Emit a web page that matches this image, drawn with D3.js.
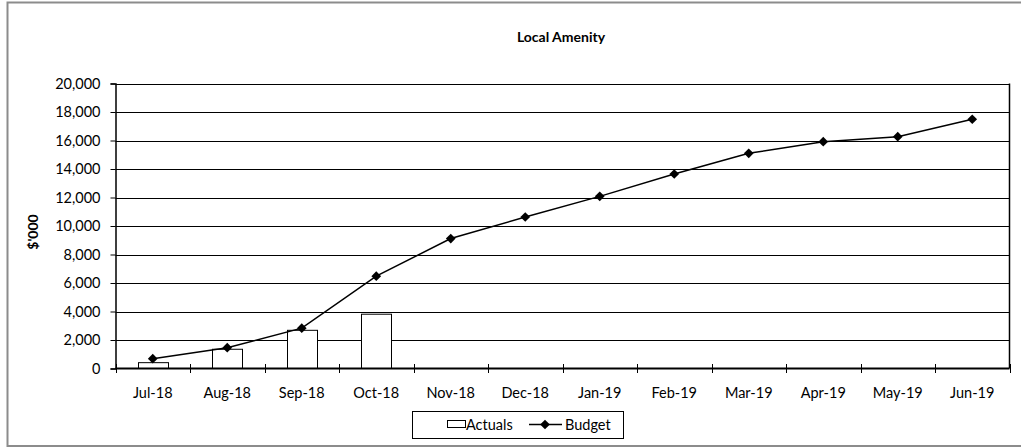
<!DOCTYPE html>
<html>
<head>
<meta charset="utf-8">
<script src="https://cdn.jsdelivr.net/npm/d3@7/dist/d3.min.js"></script>
<style>
  html, body { margin: 0; padding: 0; background: #fff; }
  svg { display: block; font-family: Lato, "Open Sans", sans-serif; }
</style>
</head>
<body>
<svg id="chart" width="1021" height="447"></svg>
<script>
// Monthly figures, $'000
const months = ["Jul-18","Aug-18","Sep-18","Oct-18","Nov-18","Dec-18","Jan-19","Feb-19","Mar-19","Apr-19","May-19","Jun-19"];
const actuals = [410, 1350, 2680, 3810];
const budget = [690, 1460, 2830, 6480, 9120, 10630, 12080, 13650, 15100, 15920, 16270, 17490];
const yTicks = [0, 2000, 4000, 6000, 8000, 10000, 12000, 14000, 16000, 18000, 20000];

const svg = d3.select("#chart");
const W = 1021, H = 447;
const plot = { left: 115.5, right: 1009.5, top: 83.5, bottom: 368.5 };
const FS = 14.5;

// outer frame
svg.append("rect")
  .attr("x", 7.5).attr("y", 2.5).attr("width", W + 10).attr("height", 443.5)
  .attr("fill", "#fff").attr("stroke", "#8c8c8c").attr("stroke-width", 2);

const xOuter = d3.scaleBand().domain(months).range([plot.left, plot.right]);
const y = d3.scaleLinear().domain([0, 20000]).range([plot.bottom, plot.top]);

// horizontal gridlines
svg.append("g").selectAll("line").data(yTicks.slice(1)).join("line")
  .attr("x1", plot.left).attr("x2", plot.right)
  .attr("y1", d => Math.round(y(d)) + 0.5).attr("y2", d => Math.round(y(d)) + 0.5)
  .attr("stroke", "#000").attr("stroke-width", 1);

// plot border (right side)
svg.append("line").attr("x1", plot.right).attr("x2", plot.right)
  .attr("y1", plot.top).attr("y2", plot.bottom).attr("stroke", "#000").attr("stroke-width", 1.5);

// actuals bars
const barW = 30;
svg.append("g").selectAll("rect").data(actuals).join("rect")
  .attr("x", (d, i) => Math.round(xOuter(months[i]) + xOuter.bandwidth() / 2 - barW / 2) + 0.5)
  .attr("y", d => y(d))
  .attr("width", barW)
  .attr("height", d => plot.bottom - y(d))
  .attr("fill", "#fff").attr("stroke", "#000").attr("stroke-width", 1);

// y axis
const yAxis = d3.axisLeft(y).tickValues(yTicks).tickSize(5).tickPadding(10)
  .tickFormat(d3.format(","));
const gy = svg.append("g").attr("transform", `translate(${plot.left},0)`).call(yAxis);
gy.select(".domain").attr("stroke", "#000").attr("stroke-width", 1.5);
gy.selectAll(".tick line").attr("stroke", "#000");
gy.selectAll(".tick text").attr("font-size", FS).attr("fill", "#000")
  .attr("font-family", "Lato, 'Open Sans', sans-serif");

// x axis with crossing tick marks at category boundaries
svg.append("line").attr("x1", plot.left).attr("x2", plot.right)
  .attr("y1", plot.bottom).attr("y2", plot.bottom).attr("stroke", "#000").attr("stroke-width", 2);
const bounds = months.map(m => xOuter(m)).concat([plot.right]);
svg.append("g").selectAll("line").data(bounds).join("line")
  .attr("x1", d => Math.round(d) + 0.5).attr("x2", d => Math.round(d) + 0.5)
  .attr("y1", plot.bottom - 4.5).attr("y2", plot.bottom + 4.5)
  .attr("stroke", "#000").attr("stroke-width", 1);
svg.append("g").selectAll("text").data(months).join("text")
  .attr("x", d => xOuter(d) + xOuter.bandwidth() / 2)
  .attr("y", 398)
  .attr("text-anchor", "middle").attr("font-size", FS).attr("fill", "#000")
  .text(d => d);

// budget line with diamond markers
const cx = m => xOuter(m) + xOuter.bandwidth() / 2;
svg.append("path")
  .datum(budget)
  .attr("d", d3.line().x((d, i) => cx(months[i])).y(d => y(d)))
  .attr("fill", "none").attr("stroke", "#000").attr("stroke-width", 1.5);
const diamond = d3.symbol().type(d3.symbolDiamond2).size(60);
svg.append("g").selectAll("path").data(budget).join("path")
  .attr("d", diamond)
  .attr("transform", (d, i) => `translate(${cx(months[i])},${y(d)})`)
  .attr("fill", "#000");

// title
svg.append("text").attr("x", 561).attr("y", 42)
  .attr("text-anchor", "middle").attr("font-size", 14).attr("font-weight", "bold")
  .text("Local Amenity");

// y axis title
svg.append("text")
  .attr("transform", "translate(38,232) rotate(-90)")
  .attr("text-anchor", "middle").attr("font-size", 14).attr("font-weight", "bold")
  .text("$'000");

// legend
const lg = svg.append("g");
lg.append("rect").attr("x", 412.5).attr("y", 411.5).attr("width", 211).attr("height", 27)
  .attr("fill", "#fff").attr("stroke", "#000").attr("stroke-width", 1);
lg.append("rect").attr("x", 447.5).attr("y", 420.5).attr("width", 18).attr("height", 7)
  .attr("fill", "#fff").attr("stroke", "#000").attr("stroke-width", 1);
lg.append("text").attr("x", 466).attr("y", 430).attr("font-size", FS).text("Actuals");
lg.append("line").attr("x1", 529).attr("x2", 562).attr("y1", 424.5).attr("y2", 424.5)
  .attr("stroke", "#000").attr("stroke-width", 1.5);
lg.append("path").attr("d", diamond).attr("transform", "translate(545,424.5)").attr("fill", "#000");
lg.append("text").attr("x", 565).attr("y", 430).attr("font-size", FS).text("Budget");
</script>
</body>
</html>
